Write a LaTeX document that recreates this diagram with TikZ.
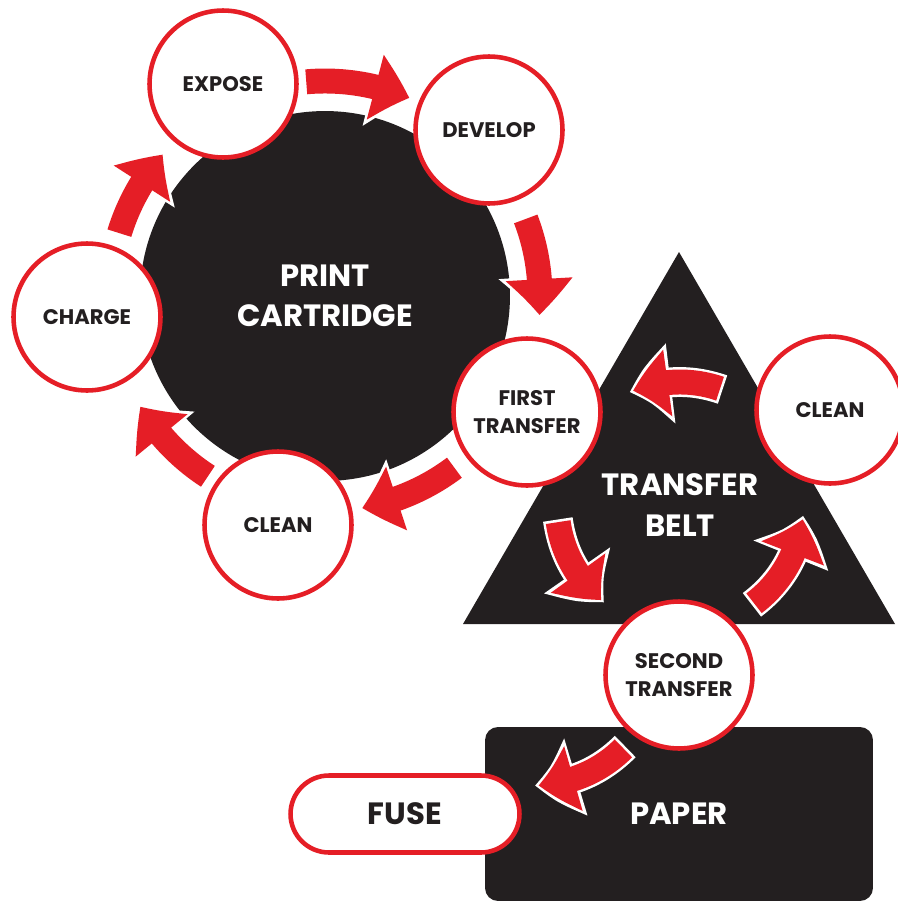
\documentclass[tikz,border=0pt]{standalone}
\usepackage{fontspec}
\setmainfont{Poppins}
\usetikzlibrary{arrows.meta,bending,calc}
\definecolor{laserred}{RGB}{229,30,38}
\definecolor{tonerblack}{RGB}{35,31,32}

\begin{document}
\begin{tikzpicture}[x=0.02cm,y=-0.02cm,
    stage/.style={circle,draw=laserred,line width=2.6pt,fill=white,
      minimum size=2.94cm,inner sep=0pt,align=center,text=tonerblack,
      font=\bfseries\fontsize{12}{16}\selectfont},
    bigtext/.style={font=\bfseries\fontsize{17.5}{23}\selectfont,align=center},
    block/.style={fill=tonerblack,text=white,bigtext},
    flow/.style={draw=laserred,line width=14.2pt,shorten >=2pt,
      -{Triangle[bend,width=36.8pt,length=20.4pt]}},
    halo/.style={draw=white,line width=17pt,shorten <=-1.5pt,
      -{Triangle[bend,width=44pt,length=24pt]}}]

  \useasboundingbox (0,0) rectangle (897,903);
  \def\loopr{215}
  \def\beltr{123}

  % --- BLACK PARTS: cartridge, belt, paper ---
  \node[block,circle,minimum size=7.4cm,inner sep=0pt] (cart) at (325,296)
       {PRINT\\CARTRIDGE};
  \fill[tonerblack] (679,252) -- (463,624) -- (895,624) -- cycle;
  \node[bigtext,text=white] (belt) at (680,505) {TRANSFER\\BELT};
  \node[block,rounded corners=7.4pt,minimum width=7.76cm,minimum height=3.48cm]
       (paper) at (679,814) {PAPER};

  % --- ARROWS round the cartridge ---
  \foreach \a/\b in {197/222, 265/294, 339/366, 53/81, 123/150} {
    \draw[halo] ($(cart)+(\a:\loopr)$) arc[start angle=\a,end angle=\b,radius=\loopr];
    \draw[flow] ($(cart)+(\a:\loopr)$) arc[start angle=\a,end angle=\b,radius=\loopr];
  }

  % --- ARROWS round the belt ---
  \foreach \a/\b in {289/246, 172/128, 53/5} {
    \draw[halo] ($(belt)+(\a:\beltr)$) arc[start angle=\a,end angle=\b,radius=\beltr];
    \draw[flow] ($(belt)+(\a:\beltr)$) arc[start angle=\a,end angle=\b,radius=\beltr];
  }
  \coordinate (bend) at (535,660);
  \draw[halo] ($(bend)+(45:125)$) arc[start angle=45,end angle=90,radius=125];
  \draw[flow] ($(bend)+(45:125)$) arc[start angle=45,end angle=90,radius=125];

  % --- STAGES ---
  \node[stage] (expose)  at (223,84)  {EXPOSE};
  \node[stage] (develop) at (489,130) {DEVELOP};
  \node[stage] (charge)  at (87,317)  {CHARGE};
  \node[stage] (first)   at (527,412) {FIRST\\TRANSFER};
  \node[stage] (cleanA)  at (278,525) {CLEAN};
  \node[stage] (cleanB)  at (830,410) {CLEAN};
  \node[stage] (second)  at (679,675) {SECOND\\TRANSFER};
  \node[draw=laserred,line width=2.6pt,fill=white,rounded corners=0.77cm,
        minimum width=4.58cm,minimum height=1.54cm,bigtext,text=tonerblack]
       (fuse) at (405,814) {FUSE};

\end{tikzpicture}
\end{document}
